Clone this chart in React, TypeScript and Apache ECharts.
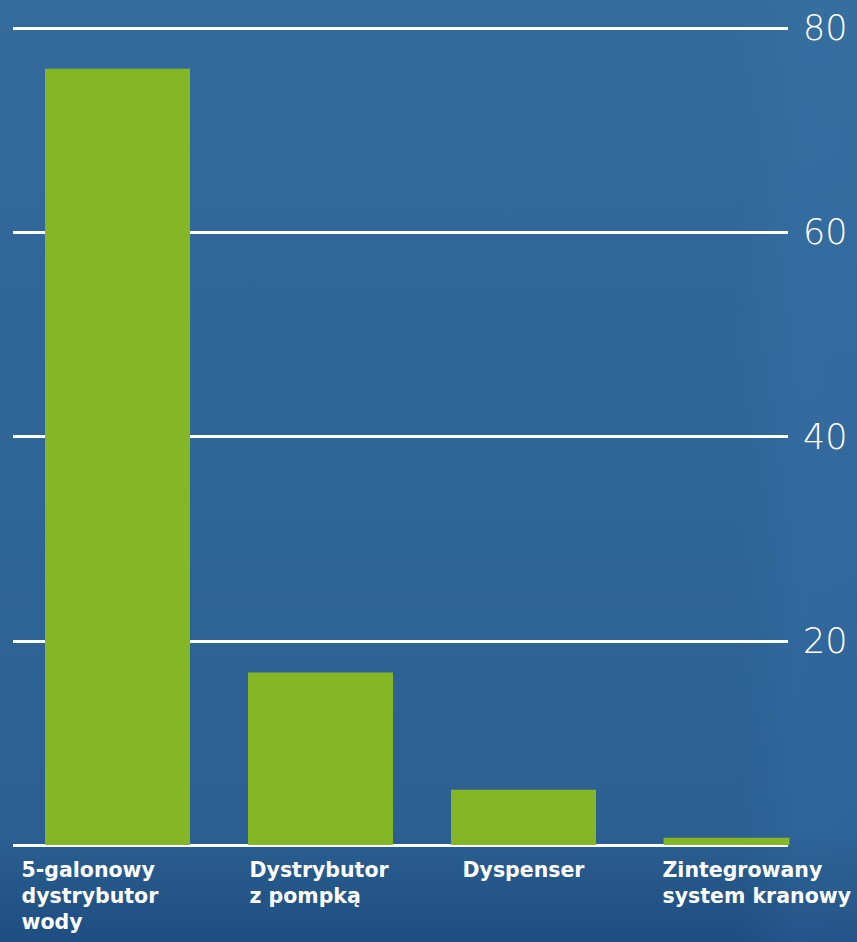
import React, { useEffect, useRef } from "react";
import * as echarts from "echarts";

const categories = [
  "5-galonowy\ndystrybutor\nwody",
  "Dystrybutor\nz pompką",
  "Dyspenser",
  "Zintegrowany\nsystem kranowy",
];
const mainValues: (number | string)[] = [76, 16.9, 5.4, "-"];
const lastValues: (number | string)[] = ["-", "-", "-", 0.7];
const yTicks = { min: 0, max: 80, interval: 20 };
const labelShifts = [-96, -71, -61, -64];

export default function App() {
  const ref = useRef<HTMLDivElement>(null);
  useEffect(() => {
    document.body.style.margin = "0";
    const chart = echarts.init(ref.current!, undefined, { renderer: "svg" });
    const green = "#84b626";
    chart.setOption({
      animation: false,
      backgroundColor: {
        type: "linear",
        x: 0,
        y: 0,
        x2: 0,
        y2: 1,
        colorStops: [
          { offset: 0, color: "#346b9b" },
          { offset: 0.5, color: "#306597" },
          { offset: 0.88, color: "#2c6093" },
          { offset: 0.93, color: "#265889" },
          { offset: 1, color: "#1f4e82" },
        ],
      },
      graphic: [
        {
          type: "rect",
          z: -1,
          silent: true,
          shape: { x: 0, y: 0, width: 857, height: 942 },
          style: {
            fill: {
              type: "linear",
              x: 0,
              y: 0,
              x2: 1,
              y2: 0,
              colorStops: [
                { offset: 0, color: "rgba(60,120,180,0)" },
                { offset: 0.86, color: "rgba(60,120,180,0)" },
                { offset: 0.93, color: "rgba(70,130,190,0.14)" },
                { offset: 1, color: "rgba(70,130,190,0.12)" },
              ],
            },
          },
        },
      ],
      grid: [
        { left: 16, right: 29, top: 28, bottom: 97 },
        { left: 13, right: 69, top: 28, bottom: 97 },
      ],
      xAxis: [
        {
          type: "category",
          gridIndex: 0,
          data: categories.map((c, i) => ({
            value: c,
            textStyle: { align: "left", padding: [0, 0, 0, labelShifts[i]] },
          })),
          axisLine: { show: false },
          axisTick: { show: false },
          axisLabel: {
            interval: 0,
            align: "left",
            verticalAlign: "top",
            margin: 12,
            color: "#ffffff",
            fontFamily: "DejaVu Sans",
            fontWeight: "bold",
            fontSize: 20.5,
            lineHeight: 26,
          },
        },
        {
          type: "category",
          gridIndex: 0,
          data: categories,
          show: false,
        },
        {
          type: "category",
          gridIndex: 1,
          data: categories,
          show: false,
        },
      ],
      yAxis: [
        {
          type: "value",
          gridIndex: 0,
          min: yTicks.min,
          max: yTicks.max,
          interval: yTicks.interval,
          show: false,
          splitLine: { show: false },
        },
        {
          type: "value",
          gridIndex: 1,
          position: "right",
          min: yTicks.min,
          max: yTicks.max,
          interval: yTicks.interval,
          axisLine: { show: false },
          axisTick: { show: false },
          splitLine: { show: true, lineStyle: { color: "#ffffff", width: 3 } },
          axisLabel: {
            showMinLabel: false,
            margin: 15,
            color: "#ffffff",
            fontFamily: "DejaVu Sans",
            fontWeight: 200,
            fontSize: 35,
          },
        },
      ],
      series: [
        {
          type: "bar",
          xAxisIndex: 0,
          yAxisIndex: 0,
          data: mainValues,
          barWidth: 145,
          itemStyle: { color: green },
          z: 3,
        },
        {
          type: "bar",
          xAxisIndex: 1,
          yAxisIndex: 0,
          data: lastValues,
          barWidth: 126,
          itemStyle: { color: green },
          z: 3,
        },
      ],
    });
    return () => chart.dispose();
  }, []);
  return <div ref={ref} style={{ width: 857, height: 942 }} />;
}
